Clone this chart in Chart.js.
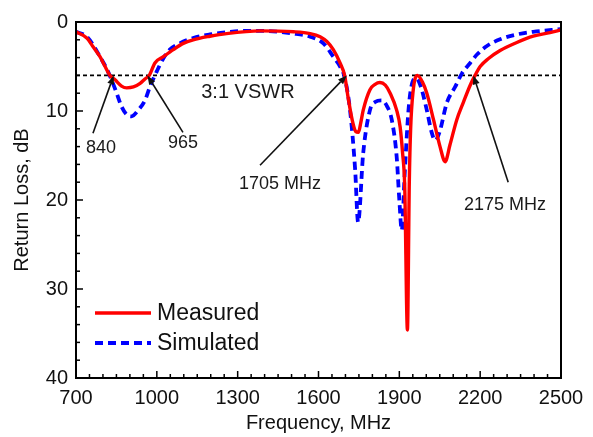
<!DOCTYPE html>
<html><head><meta charset="utf-8">
<script src="https://cdn.jsdelivr.net/npm/chart.js@4.4.1/dist/chart.umd.min.js"></script>
<style>html,body{margin:0;padding:0;background:#fff;}#wrap{width:593px;height:437px;}</style>
</head><body><div id="wrap"><canvas id="c" width="593" height="437"></canvas></div>
<script>
// ---- data ----
const measuredFreq = [700,740,764,789,808,826,845,869,888,913,938,956,972,993,1024,1061,1098,1135,1197,1259,1383,1507,1569,1606,1631,1655,1680,1697,1710,1725,1738,1748,1757,1766,1791,1810,1828,1848,1866,1890,1903,1912,1920,1930,1937,1942,1951,1967,1985,2002,2027,2051,2070,2088,2113,2138,2163,2181,2200,2231,2274,2336,2397,2459,2500];
const measuredLoss = [1.1,1.8,2.8,3.9,5.0,6.0,6.5,7.2,7.4,7.3,6.9,6.4,6.0,4.6,3.9,3.1,2.4,2.0,1.6,1.3,1.0,1.1,1.3,1.65,2.2,3.1,4.6,6.0,8.5,11.0,12.3,12.4,11.3,9.9,7.6,7.0,6.8,7.1,8.0,9.9,11.8,14.7,18.5,34.6,18.0,12.0,7.8,6.0,6.7,8.0,11.0,14.0,15.7,13.8,11.0,9.0,7.1,6.0,5.0,4.1,3.2,2.3,1.6,1.2,0.9];
const simulatedFreq = [700,740,764,789,813,832,851,869,888,906,931,956,974,999,1024,1048,1085,1135,1197,1259,1321,1383,1507,1569,1618,1655,1680,1695,1717,1736,1747,1766,1791,1810,1835,1855,1872,1890,1900,1909,1920,1934,1945,1962,1980,2002,2020,2033,2050,2076,2107,2132,2163,2190,2225,2274,2336,2397,2500];
const simulatedLoss = [1.1,1.65,2.6,3.9,5.2,6.5,8.0,9.5,10.4,10.6,9.9,8.8,7.3,5.6,4.1,3.1,2.4,1.8,1.4,1.16,1.0,1.0,1.3,1.65,2.4,3.9,5.0,6.0,9.9,16.6,22.5,14.7,9.9,9.0,8.8,9.5,11.0,15.1,20.0,23.4,17.0,9.9,7.2,6.3,7.3,9.9,12.4,13.3,12.3,9.1,7.3,5.8,4.6,3.6,2.7,1.95,1.4,1.1,0.8];
const seriesNames = ['Measured','Simulated'];
const xTickLabels = [700,1000,1300,1600,1900,2200,2500];
const yTickLabels = [0,10,20,30,40];
const vswrLevel = 6;
const vswrLabel = '3:1 VSWR';
const markerFreqs = [840,965,1705,2175];
const markerLabels = ['840','965','1705 MHz','2175 MHz'];

// ---- annotation layout (data coordinates) ----
const arrowTails = [[763,12.5],[1097,12.4],[1383,16.1],[2304,18.0]];
const labelPos = [[793,14.2],[1097,13.65],[1457,18.2],[2292,20.6]];
const vswrTextPos = [1338,7.9];

const FONT = '"Liberation Sans", Arial, sans-serif';

const overlay = {
  id:'overlay',
  beforeDatasetsDraw(chart){
    const {ctx, chartArea:a, scales:{x,y}} = chart;
    ctx.save();
    ctx.strokeStyle='#000'; ctx.lineWidth=1.6; ctx.setLineDash([4,3]);
    const py = y.getPixelForValue(vswrLevel);
    ctx.beginPath(); ctx.moveTo(a.left,py); ctx.lineTo(a.right,py); ctx.stroke();
    ctx.restore();
  },
  afterDatasetsDraw(chart){
    const {ctx, chartArea:a, scales:{x,y}} = chart;
    ctx.save();
    ctx.strokeStyle='#000'; ctx.lineWidth=2; ctx.setLineDash([]);
    ctx.strokeRect(a.left,a.top,a.right-a.left,a.bottom-a.top);
    ctx.lineWidth=1.5;
    for(let v=x.min; v<=x.max+0.01; v+=50){
      const px=x.getPixelForValue(v); const major=((v-x.min)%300)===0;
      ctx.beginPath(); ctx.moveTo(px,a.bottom); ctx.lineTo(px,a.bottom-(major?7:4)); ctx.stroke();
    }
    for(let v=y.min; v<=y.max+0.01; v+=2){
      const py=y.getPixelForValue(v); const major=(v%10)===0;
      ctx.beginPath(); ctx.moveTo(a.left,py); ctx.lineTo(a.left+(major?7:4),py); ctx.stroke();
    }
    ctx.fillStyle='#111'; ctx.strokeStyle='#111'; ctx.lineWidth=1.6;
    markerFreqs.forEach((f,i)=>{
      const tx=x.getPixelForValue(f), ty=y.getPixelForValue(vswrLevel);
      const sx=x.getPixelForValue(arrowTails[i][0]), sy=y.getPixelForValue(arrowTails[i][1]);
      const ang=Math.atan2(ty-sy,tx-sx);
      const hl=9, hw=3.5;
      const bx=tx-hl*Math.cos(ang), by=ty-hl*Math.sin(ang);
      ctx.beginPath(); ctx.moveTo(sx,sy); ctx.lineTo(bx,by); ctx.stroke();
      ctx.beginPath(); ctx.moveTo(tx,ty);
      ctx.lineTo(bx+hw*Math.sin(ang), by-hw*Math.cos(ang));
      ctx.lineTo(bx-hw*Math.sin(ang), by+hw*Math.cos(ang));
      ctx.closePath(); ctx.fill();
    });
    ctx.fillStyle='#1a1a1a'; ctx.textAlign='center'; ctx.textBaseline='middle';
    ctx.font='18px '+FONT;
    markerLabels.forEach((t,i)=>{
      ctx.fillText(t, x.getPixelForValue(labelPos[i][0]), y.getPixelForValue(labelPos[i][1]));
    });
    ctx.font='20px '+FONT;
    ctx.fillText(vswrLabel, x.getPixelForValue(vswrTextPos[0]), y.getPixelForValue(vswrTextPos[1]));
    ctx.textAlign='left'; ctx.font='23px '+FONT; ctx.fillStyle='#111';
    chart.data.datasets.forEach((ds,i)=>{
      const ly=a.top+291+i*30;
      ctx.strokeStyle=ds.borderColor; ctx.lineWidth=ds.borderWidth;
      ctx.setLineDash(ds.borderDash||[]);
      ctx.beginPath(); ctx.moveTo(a.left+19,ly); ctx.lineTo(a.left+75,ly); ctx.stroke();
      ctx.setLineDash([]);
      ctx.fillText(ds.label, a.left+81, ly+1);
    });
    ctx.restore();
  }
};

new Chart(document.getElementById('c'),{
  type:'line',
  data:{datasets:[
    {label:seriesNames[0], data:measuredFreq.map((f,i)=>({x:f,y:measuredLoss[i]})), borderColor:'#ff0000', borderWidth:3.4, pointRadius:0, cubicInterpolationMode:'monotone', fill:false},
    {label:seriesNames[1], data:simulatedFreq.map((f,i)=>({x:f,y:simulatedLoss[i]})), borderColor:'#0000ff', borderWidth:3.8, borderDash:[8,5], pointRadius:0, cubicInterpolationMode:'monotone', fill:false}
  ]},
  options:{
    responsive:false, animation:false, devicePixelRatio:1,
    layout:{padding:{left:0,top:22,right:32,bottom:0}},
    plugins:{legend:{display:false}, tooltip:{enabled:false}},
    scales:{
      x:{type:'linear', min:700, max:2500,
        afterBuildTicks:(s)=>{s.ticks=xTickLabels.map(v=>({value:v}));},
        afterFit:(s)=>{s.height=59;},
        grid:{display:false, drawTicks:false}, border:{display:false},
        ticks:{padding:8, color:'#111', font:{family:FONT,size:20}, maxRotation:0, autoSkip:false, callback:(v)=>String(v)},
        title:{display:true, text:'Frequency, MHz', color:'#111', font:{family:FONT,size:20}, padding:{top:0,bottom:2}}
      },
      y:{type:'linear', min:0, max:40, reverse:true,
        afterBuildTicks:(s)=>{s.ticks=yTickLabels.map(v=>({value:v}));},
        afterFit:(s)=>{s.width=76;},
        grid:{display:false, drawTicks:false}, border:{display:false},
        ticks:{padding:8, color:'#111', font:{family:FONT,size:20}, callback:(v)=>String(v)},
        title:{display:true, text:'Return Loss, dB', color:'#111', font:{family:FONT,size:20}, padding:{top:10,bottom:0}}
      }
    }
  },
  plugins:[overlay]
});
</script></body></html>
